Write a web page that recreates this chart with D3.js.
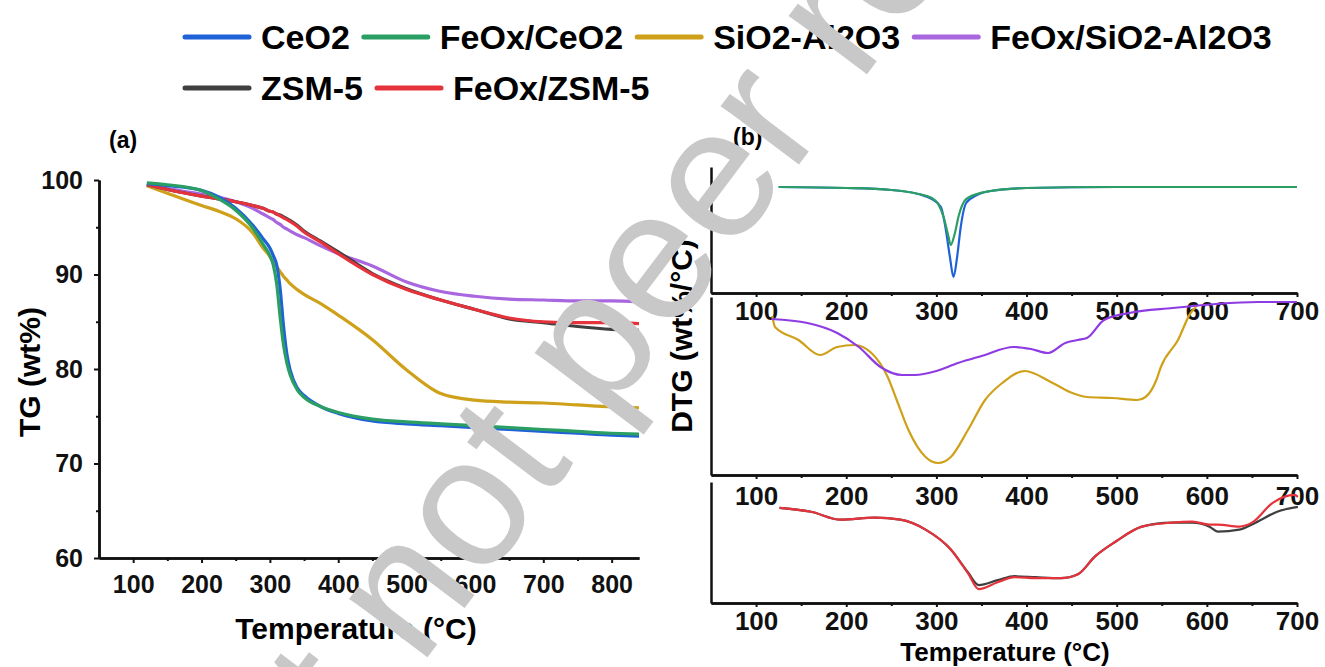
<!DOCTYPE html>
<html>
<head>
<meta charset="utf-8">
<script src="https://cdn.jsdelivr.net/npm/d3@7"></script>
<style>
  html, body { margin: 0; padding: 0; background: #fff; }
  svg { display: block; font-family: "Liberation Sans", Arial, sans-serif; font-weight: bold; }
</style>
</head>
<body>
<svg id="chart" width="1325" height="667"></svg>
<script>
// ---- data ----
const names = ["CeO2", "FeOx/CeO2", "SiO2-Al2O3", "FeOx/SiO2-Al2O3", "ZSM-5", "FeOx/ZSM-5"];
const colors = ["#1f62d8", "#2b9f63", "#cfa11b", "#a866df", "#3f3f3f", "#e5333c"];

// (a) TG, wt%
const tgTemp = [120, 150, 200, 225, 250, 275, 290, 300, 305, 310, 315, 320, 325, 330, 340, 350, 375, 400, 450, 500, 550, 600, 650, 700, 750, 800, 840];
const tgCeO2 = [99.6, 99.4, 98.9, 98.2, 97.0, 95.2, 93.8, 92.8, 92.0, 91.0, 88.5, 84.5, 81.5, 79.8, 78.0, 77.2, 76.0, 75.3, 74.5, 74.2, 74.0, 73.8, 73.6, 73.4, 73.2, 73.0, 72.9];
const tgFeCeO2 = [99.7, 99.5, 98.9, 98.0, 96.8, 94.9, 93.2, 92.0, 91.0, 89.0, 85.5, 82.5, 80.6, 79.3, 77.8, 77.0, 76.0, 75.4, 74.7, 74.4, 74.2, 74.0, 73.8, 73.6, 73.4, 73.2, 73.1];
const tgSiAl = [99.4, 98.6, 97.3, 96.7, 95.9, 94.4, 92.8, 91.9, 91.3, 90.8, 90.3, 89.8, 89.4, 89.0, 88.4, 87.9, 86.9, 85.7, 83.1, 79.9, 77.4, 76.7, 76.5, 76.4, 76.2, 76.0, 75.9];
const tgFeSiAl = [99.5, 99.1, 98.5, 98.2, 97.7, 97.0, 96.4, 96.0, 95.8, 95.5, 95.3, 95.0, 94.8, 94.6, 94.2, 93.9, 93.0, 92.2, 90.9, 89.2, 88.2, 87.7, 87.4, 87.3, 87.2, 87.2, 87.1];
const tgZSM = [99.5, 99.0, 98.3, 98.0, 97.7, 97.3, 97.0, 96.7, 96.6, 96.4, 96.3, 96.1, 95.9, 95.7, 95.2, 94.6, 93.5, 92.4, 90.1, 88.5, 87.3, 86.3, 85.3, 84.9, 84.5, 84.2, 84.1];
const tgFeZSM = [99.5, 99.0, 98.3, 98.0, 97.7, 97.3, 97.0, 96.7, 96.6, 96.4, 96.2, 96.0, 95.8, 95.6, 95.1, 94.5, 93.4, 92.2, 90.0, 88.4, 87.3, 86.3, 85.4, 85.0, 84.9, 84.9, 84.8];

// (b) DTG, arbitrary offsets per stacked panel
const dtgCeO2Temp = [125, 200, 250, 280, 295, 305, 310, 315, 319, 323, 327, 333, 345, 360, 400, 500, 600, 700];
const dtgCeO2 = [0, -0.01, -0.03, -0.07, -0.12, -0.20, -0.40, -0.70, -0.90, -0.70, -0.40, -0.16, -0.08, -0.04, -0.01, 0, 0, 0];
const dtgFeCeO2Temp = [125, 200, 250, 280, 295, 302, 308, 313, 316, 320, 325, 332, 345, 360, 400, 500, 600, 700];
const dtgFeCeO2 = [0, -0.01, -0.03, -0.07, -0.11, -0.17, -0.30, -0.48, -0.58, -0.48, -0.28, -0.13, -0.07, -0.04, -0.01, 0, 0, 0];

const dtgSiAlTemp = [118, 121, 147, 171, 190, 209, 228, 246, 256, 269, 288, 302, 316, 335, 354, 373, 398, 429, 448, 467, 495, 523, 532, 544, 549, 568, 582, 588];
const dtgSiAl = [-0.19, -0.30, -0.43, -0.58, -0.50, -0.48, -0.56, -0.80, -1.03, -1.33, -1.60, -1.66, -1.60, -1.33, -1.03, -0.86, -0.74, -0.86, -0.95, -1.00, -1.01, -1.03, -1.00, -0.83, -0.70, -0.43, -0.16, -0.10];
const dtgFeSiAlTemp = [117, 157, 190, 214, 238, 262, 276, 300, 324, 350, 386, 405, 424, 443, 457, 467, 486, 514, 562, 610, 657, 700];
const dtgFeSiAl = [-0.22, -0.26, -0.36, -0.50, -0.70, -0.78, -0.78, -0.74, -0.66, -0.59, -0.50, -0.52, -0.56, -0.46, -0.43, -0.41, -0.23, -0.16, -0.11, -0.07, -0.05, -0.05];

const dtgZSMTemp = [126, 161, 194, 232, 260, 288, 316, 335, 347, 368, 387, 410, 438, 457, 476, 499, 528, 561, 584, 603, 612, 636, 654, 678, 701];
const dtgZSM = [-0.25, -0.29, -0.37, -0.35, -0.37, -0.47, -0.67, -0.90, -1.03, -0.98, -0.94, -0.95, -0.96, -0.92, -0.74, -0.59, -0.44, -0.40, -0.40, -0.44, -0.49, -0.47, -0.40, -0.29, -0.24];
const dtgFeZSMTemp = [126, 161, 194, 232, 260, 288, 316, 335, 347, 368, 387, 410, 438, 457, 476, 499, 528, 561, 584, 603, 612, 636, 650, 673, 697, 701];
const dtgFeZSM = [-0.25, -0.29, -0.37, -0.35, -0.37, -0.47, -0.67, -0.91, -1.07, -1.00, -0.95, -0.96, -0.96, -0.92, -0.74, -0.59, -0.44, -0.40, -0.39, -0.42, -0.42, -0.44, -0.40, -0.20, -0.12, -0.14];

const tickA = d3.range(100, 801, 100);
const tickB = d3.range(100, 701, 100);

// ---- chart ----
const svg = d3.select("#chart");
const zip = (xs, ys) => xs.map((x, i) => [x, ys[i]]);

function styleAxis(g, size) {
  g.attr("font-size", size).attr("font-family", null).attr("font-weight", "bold");
  g.select(".domain").attr("stroke-width", 2.5).attr("stroke", "#111");
  g.selectAll(".tick line").attr("stroke-width", 2).attr("stroke", "#111");
  g.selectAll(".tick text").attr("fill", "#111");
}

// panel (a)
const xA = d3.scaleLinear().domain([50, 840]).range([99, 639]);
const yA = d3.scaleLinear().domain([60, 100]).range([558, 180]);

const gA = svg.append("g");
gA.append("g").attr("transform", `translate(0,${yA(60)})`)
  .call(d3.axisBottom(xA).tickValues(d3.range(150, 841, 100)).tickSize(3).tickFormat("").tickSizeOuter(0))
  .call(g => styleAxis(g, 25));
gA.append("g").attr("transform", `translate(0,${yA(60)})`)
  .call(d3.axisBottom(xA).tickValues(tickA).tickSize(5).tickPadding(12).tickSizeOuter(0))
  .call(g => styleAxis(g, 25));
gA.append("g").attr("transform", `translate(${xA(50)},0)`)
  .call(d3.axisLeft(yA).tickValues(d3.range(65, 100, 10)).tickSize(3).tickFormat("").tickSizeOuter(0))
  .call(g => styleAxis(g, 25));
gA.append("g").attr("transform", `translate(${xA(50)},0)`)
  .call(d3.axisLeft(yA).tickValues(d3.range(60, 101, 10)).tickSize(5).tickPadding(11).tickSizeOuter(0))
  .call(g => styleAxis(g, 25));

const lineA = d3.line().x(d => xA(d[0])).y(d => yA(d[1])).curve(d3.curveMonotoneX);
const tgSeries = [tgSiAl, tgFeSiAl, tgZSM, tgFeZSM, tgCeO2, tgFeCeO2];
const tgColors = [colors[2], colors[3], colors[4], colors[5], colors[0], colors[1]];
gA.append("g").selectAll("path")
  .data(tgSeries)
  .join("path")
  .attr("d", d => lineA(zip(tgTemp, d)))
  .attr("fill", "none")
  .attr("stroke", (d, i) => tgColors[i])
  .attr("stroke-width", 3.2);

gA.append("text").attr("x", 109).attr("y", 148)
  .attr("font-size", 23).text("(a)");
gA.append("text").attr("x", 356).attr("y", 639)
  .attr("text-anchor", "middle").attr("font-size", 30).text("Temperature (°C)");
gA.append("text").attr("transform", "translate(40,372) rotate(-90)")
  .attr("text-anchor", "middle").attr("font-size", 30).text("TG (wt%)");

// panel (b) three stacked DTG plots
const xB = d3.scaleLinear().domain([50, 700]).range([711, 1297]);
const panelsB = [
  { y: d3.scaleLinear().domain([-1.06, 0.20]).range([293, 167]), pad: 5,
    curves: [[dtgCeO2Temp, dtgCeO2, colors[0]], [dtgFeCeO2Temp, dtgFeCeO2, colors[1]]] },
  { y: d3.scaleLinear().domain([-1.78, 0]).range([475, 297]), pad: 8,
    curves: [[dtgSiAlTemp, dtgSiAl, colors[2]], [dtgFeSiAlTemp, dtgFeSiAl, "#8f3be3"]] },
  { y: d3.scaleLinear().domain([-1.21, 0.01]).range([603, 482]), pad: 5,
    curves: [[dtgZSMTemp, dtgZSM, colors[4]], [dtgFeZSMTemp, dtgFeZSM, colors[5]]] },
];

const gB = svg.append("g");
panelsB.forEach(p => {
  const base = p.y.range()[0];
  gB.append("g").attr("transform", `translate(${xB(50)},0)`)
    .call(d3.axisLeft(p.y).tickValues([]).tickSizeOuter(0))
    .call(g => styleAxis(g, 26));
  gB.append("g").attr("transform", `translate(0,${base})`)
    .call(d3.axisBottom(xB).tickValues(d3.range(150, 701, 100)).tickSize(3).tickFormat("").tickSizeOuter(0))
    .call(g => styleAxis(g, 26));
  gB.append("g").attr("transform", `translate(0,${base})`)
    .call(d3.axisBottom(xB).tickValues(tickB).tickSize(4).tickPadding(p.pad).tickSizeOuter(0))
    .call(g => styleAxis(g, 26));

  const line = d3.line().x(d => xB(d[0])).y(d => p.y(d[1])).curve(d3.curveMonotoneX);
  gB.append("g").selectAll("path")
    .data(p.curves)
    .join("path")
    .attr("d", d => line(zip(d[0], d[1])))
    .attr("fill", "none")
    .attr("stroke", d => d[2])
    .attr("stroke-width", 2.2);
});

gB.append("text").attr("x", 733).attr("y", 145)
  .attr("font-size", 23).text("(b)");
gB.append("text").attr("x", 1005).attr("y", 661)
  .attr("text-anchor", "middle").attr("font-size", 26).text("Temperature (°C)");
gB.append("text").attr("transform", "translate(692,336) rotate(-90)")
  .attr("text-anchor", "middle").attr("font-size", 30).text("DTG (wt%/°C)");

// legend, two rows
const legend = svg.append("g");
const rows = [[0, 1, 2, 3], [4, 5]];
rows.forEach((row, r) => {
  let x = 185;
  const y = 37 + r * 51;
  row.forEach(i => {
    legend.append("line")
      .attr("x1", x).attr("x2", x + 64).attr("y1", y).attr("y2", y)
      .attr("stroke", colors[i]).attr("stroke-width", 5).attr("stroke-linecap", "round");
    const t = legend.append("text")
      .attr("x", x + 76).attr("y", y + 12)
      .attr("font-size", 34).text(names[i]);
    x += 76 + t.node().getComputedTextLength() + 14;
  });
});

// preprint watermark
svg.append("text")
  .attr("transform", "translate(-1,1226) rotate(-53)")
  .attr("font-size", 185).attr("font-weight", "normal").attr("fill", "#c8c8c8")
  .text("Preprint not peer reviewed");
</script>
</body>
</html>
